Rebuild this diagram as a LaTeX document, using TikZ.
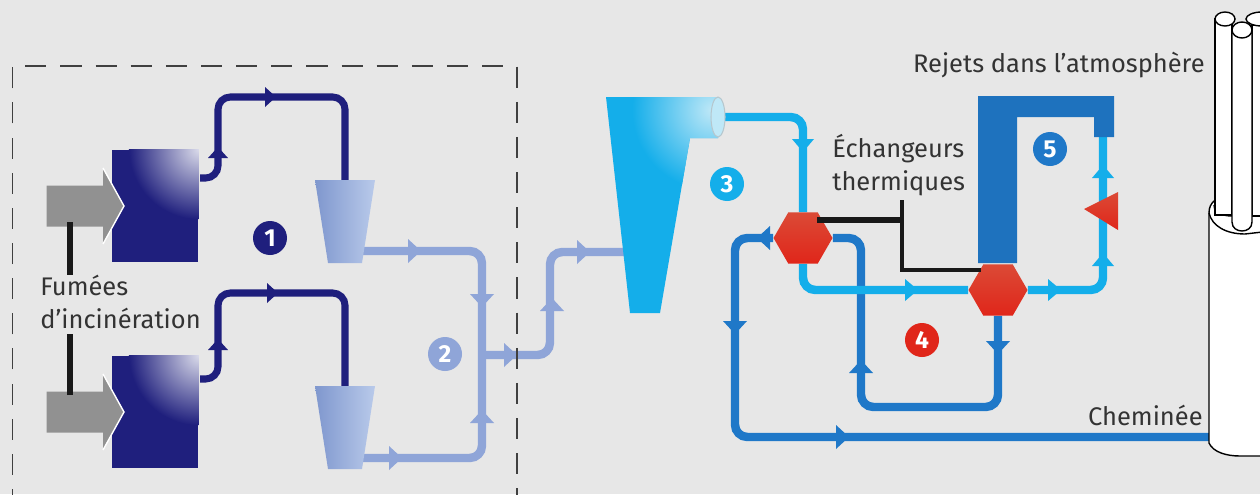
\documentclass[tikz,border=0pt]{standalone}
\usepackage{fontspec}
\setmainfont{Fira Sans}
\usetikzlibrary{shapes.geometric,backgrounds}

\definecolor{panelgray}{HTML}{E7E7E7}
\definecolor{navypipe}{HTML}{1F1F7D}
\definecolor{navylight}{HTML}{DADBEA}
\definecolor{lilacpipe}{HTML}{8FA5D8}
\definecolor{lilaclight}{HTML}{B9CAEA}
\definecolor{lilacdark}{HTML}{7F97CE}
\definecolor{cyanpipe}{HTML}{14AEEA}
\definecolor{cyanlight}{HTML}{BFE8F7}
\definecolor{bluepipe}{HTML}{1F78C8}
\definecolor{hexred}{HTML}{E0261A}
\definecolor{hexlight}{HTML}{DB4A36}
\definecolor{textgray}{HTML}{333333}

\tikzset{
  furnace/.style={rectangle,inner sep=0,minimum width=1.74cm,minimum height=2.26cm,fill=navypipe},
  filterbox/.style={shading angle=45,left color=lilacdark,right color=lilaclight},
  hexa/.style={regular polygon,regular polygon sides=6,inner sep=0,minimum size=1.18cm,
    shade,top color=hexlight,bottom color=hexred},
  badge/.style={circle,inner sep=0,minimum size=0.68cm,text=white,font=\bfseries\fontsize{14}{14}\selectfont},
  label/.style={text=textgray,inner sep=0,font=\fontsize{14.5}{18.5}\selectfont},
  pipe/.style={line width=4.8pt,rounded corners=7pt},
  bar/.style={line width=3.2pt,black!90},
  stack/.style={draw=black,fill=white,line width=0.8pt}
}

\begin{document}
\begin{tikzpicture}[x=0.02cm,y=-0.02cm]
  \useasboundingbox (0,0) rectangle (1260,494);
  \begin{scope}[on background layer]
    \fill[panelgray] (0,0) rectangle (1260,494);
  \end{scope}

  % Furnaces, filters and smoke inlets
  \foreach \n/\y in {1/206,2/412} {
    \node[furnace] (furnace\n) at (155,\y) {};
    \begin{scope}
      \clip (furnace\n.north west) rectangle (furnace\n.south east);
      \shade[inner color=navylight,outer color=navypipe] (furnace\n.north east) circle (70);
    \end{scope}
    \fill[black!43] (46.6,\y-20.5) -- (103,\y-20.5) -- (103,\y-38) -- (124,\y) -- (103,\y+38) -- (103,\y+20.5) -- (46.6,\y+20.5) -- cycle;
    \draw[white,line width=0.8pt] (103,\y-38) -- (124,\y) -- (103,\y+38);
  }
  \foreach \n/\y in {1/180,2/386} {
    \shade[filterbox] (315,\y) -- (375,\y) -- (362,\y+83) -- (328,\y+83) -- cycle;
    \coordinate (filter\n) at (345,\y);
  }

  % Cyclone
  \begin{scope}
    \clip (606,97) -- (718,97) -- (718,138) -- (690,138) -- (660,313) -- (630,313) -- cycle;
    \fill[cyanpipe] (600,90) rectangle (730,320);
    \shade[inner color=cyanlight,outer color=cyanpipe] (712,110) circle (80);
  \end{scope}
  \draw[cyanlight!70!black!60,fill=cyanlight,line width=0.6pt] (718,117) ellipse (7 and 20);
  \coordinate (cycloneout) at (720,117);
  \coordinate (cyclonein) at (625,252);

  % Flue duct
  \fill[bluepipe!95!black] (978,96) -- (1114,96) -- (1114,137) -- (1094,137) -- (1094,117) -- (1017,117) -- (1017,263) -- (978,263) -- cycle;
  \coordinate (nozzle) at (1103,135);

  % Heat exchangers and injector
  \node[hexa] (hex1) at (803,238) {};
  \node[hexa] (hex2) at (998,290) {};
  \shade[top color=hexlight,bottom color=hexred] (1084,209) -- (1118,192) -- (1118,230) -- cycle;

  % Chimney
  \filldraw[stack] (1209,443) -- (1209,213) .. controls (1209,207) and (1211,204) .. (1214,201) -- (1280,201) -- (1280,456) -- (1240,456) .. controls (1226,456) and (1213,452) .. (1209,443);
  \draw[stack,fill=none] (1209,213) .. controls (1212,226) and (1226,234) .. (1245,234) -- (1280,230);
  \draw[stack,fill=none] (1214,205) .. controls (1213,211) and (1220,216) .. (1232,216) -- (1280,216);
  \filldraw[stack] (1215,215) -- (1215,19) -- (1232,19) -- (1232,215) -- cycle;
  \filldraw[stack] (1225,19) ellipse (10 and 7);
  \filldraw[stack] (1252,25) rectangle (1285,216);
  \filldraw[stack] (1262,19) ellipse (16 and 7);
  \filldraw[stack] (1232,30) -- (1252,30) -- (1252,222) .. controls (1252,228) and (1247,231) .. (1242,231) .. controls (1237,231) and (1232,228) .. (1232,222) -- cycle;
  \filldraw[stack] (1242,30) ellipse (10 and 8);

  % Pipes go under everything
  \coordinate (navyA) at (200,178);
  \coordinate (navyB) at (200,379);
  \coordinate (lilacA) at (362,251);
  \coordinate (lilacB) at (362,458);
  \coordinate (lilacC) at (482,355);
  \coordinate (cheminee) at (1219,437);
  \begin{scope}[on background layer]
    \draw[pipe,navypipe,line width=4pt] (navyA) -- (218,178) -- (218,97) -- (345,97) -- (filter1);
    \draw[pipe,navypipe,line width=4pt] (navyB) -- (218,379) -- (218,293) -- (345,293) -- (filter2);
    \draw[pipe,lilacpipe] (lilacA) -- (482,251) -- (482,458) -- (lilacB);
    \draw[pipe,lilacpipe] (lilacC) -- (550,355) -- (550,252) -- (cyclonein);
    \draw[pipe,bluepipe] (cheminee) -- (735,437) -- (735,238) -- (hex1);
    \draw[pipe,bluepipe] (hex1) -- (861,238) -- (861,407) -- (998,407) -- (hex2);
    \draw[pipe,cyanpipe] (cycloneout) -- (803,117) -- (hex1);
    \draw[pipe,cyanpipe] (hex1) -- (803,290) -- (hex2);
    \draw[pipe,cyanpipe] (hex2) -- (1103,290) -- (nozzle);
  \end{scope}

  % Flow tips
  \foreach \x/\y/\a in {218/153/90,270/97/0,218/345/90,272/293/0} {
    \fill[navypipe,shift={(\x,\y)},rotate=\a] (-5,-10) -- (6,0) -- (-5,10) -- cycle;
  }
  \foreach \x/\y/\a in {414/251/0,395/458/0,482/300/-90,482/417/90,510/355/0,552/305/90,583/252/0} {
    \fill[lilacpipe,shift={(\x,\y)},rotate=\a] (-6,-12) -- (7,0) -- (-6,12) -- cycle;
  }
  \foreach \x/\y/\a in {803/145/-90,911/290/0,1054/290/0,1103/172/90,1103/260/90} {
    \fill[cyanpipe,shift={(\x,\y)},rotate=\a] (-6,-11) -- (7,0) -- (-6,11) -- cycle;
  }
  \foreach \x/\y/\a in {842/437/0,735/327/-90,764/238/180,861/367/90,998/347/-90} {
    \fill[bluepipe,shift={(\x,\y)},rotate=\a] (-6,-12) -- (7,0) -- (-6,12) -- cycle;
  }

  % Dashed frame
  \draw[black!75,line width=1.1pt,dash pattern=on 12pt off 8pt] (12.5,510) -- (12.5,66) -- (516.6,66) -- (516.6,510);

  % Black leader lines
  \node[label,anchor=west,align=left] (fumes) at (40,302) {Fumées\\d’incinération};
  \coordinate (barA) at (70,222);
  \coordinate (barB) at (70,395);
  \draw[bar] (barA) -- (barA |- fumes.north);
  \draw[bar,shorten >=3pt] (barB) -- (barB |- fumes.south);
  \coordinate (trunktop) at (902,200);
  \coordinate (trunkbot) at (902,270);
  \coordinate (hexA) at (817,220);
  \coordinate (hexB) at (981,270);
  \draw[bar] (hexA) -- (hexA -| trunktop);
  \draw[bar,line width=2.6pt] (trunktop) -- (trunkbot) -- (hexB);

  % Labels
  \node[label,anchor=west,align=left] (echangeurs) at (832,165) {Échangeurs\\thermiques};
  \node[label,anchor=base east] (rejets) at (1205,72) {Rejets dans l'atmosphère};
  \node[label,anchor=base east] (chemineetext) at (1203,425) {Cheminée};

  % Numbered badges
  \foreach \n/\x/\y/\c in {1/270/238/navypipe,2/445/354/lilacpipe,3/727/184/cyanpipe,4/922/340/hexred,5/1050/149/bluepipe} {
    \node[badge,fill=\c] (badge\n) at (\x,\y) {\n};
  }
\end{tikzpicture}
\end{document}
